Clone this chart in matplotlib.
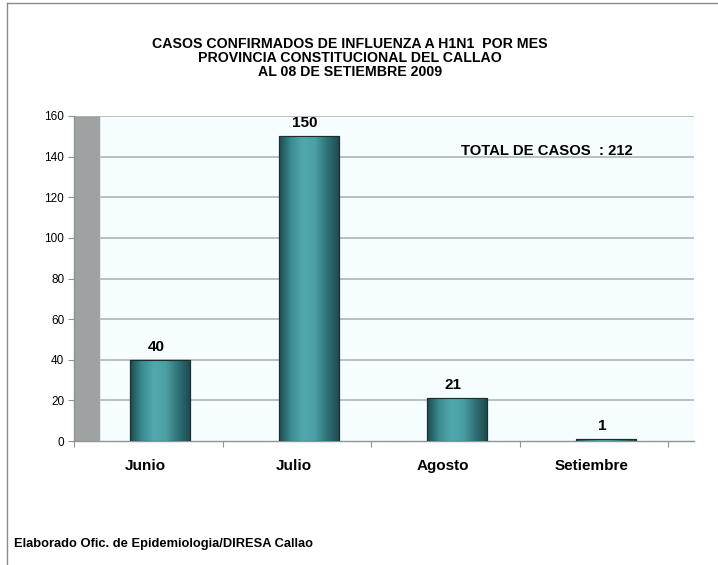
import matplotlib
matplotlib.use("Agg")
import matplotlib.pyplot as plt
import numpy as np
from matplotlib import font_manager
from matplotlib.colors import LinearSegmentedColormap
from matplotlib.patches import Rectangle

categories = ["Junio", "Julio", "Agosto", "Setiembre"]
values = [40, 150, 21, 1]
yticks = [0, 20, 40, 60, 80, 100, 120, 140, 160]
title_lines = ["CASOS CONFIRMADOS DE INFLUENZA A H1N1  POR MES",
               "PROVINCIA CONSTITUCIONAL DEL CALLAO",
               "AL 08 DE SETIEMBRE 2009"]
total_text = "TOTAL DE CASOS  : 212"
footer = "Elaborado Ofic. de Epidemiologia/DIRESA Callao"

names = {f.name for f in font_manager.fontManager.ttflist}
narrow = "Liberation Sans Narrow" if "Liberation Sans Narrow" in names else "Liberation Sans"
plt.rcParams['font.family'] = ['Liberation Sans', 'DejaVu Sans']

W, H = 718, 565
fig = plt.figure(figsize=(W/100, H/100), dpi=100)

# figure frame lines (top and left)
fig.add_artist(plt.Line2D([7/W, 1], [1-3/H, 1-3/H], color="#8c8c8c", lw=1))
fig.add_artist(plt.Line2D([7/W, 7/W], [0, 1-3/H], color="#8c8c8c", lw=1))

L, R, T, B = 74, 694, 116, 441
ax = fig.add_axes([L/W, 1-B/H, (R-L)/W, (B-T)/H])

spacing = 148.6
x0 = -(160 - L)/spacing
x1 = x0 + (R - L)/spacing
ax.set_xlim(x0, x1)
ax.set_ylim(0, 160)
ax.set_facecolor("#F6FDFE")

wall_x = x0 + (99 - L)/spacing
ax.axvspan(x0, wall_x, color="#9FA2A3", zorder=1)
for y in yticks[1:]:
    ax.hlines(y, wall_x, x1, color="#B0B4B5", lw=1.2, zorder=1)
ax.hlines(160, x0, wall_x, color="#B0B4B5", lw=1.2, zorder=1)

xpos = np.arange(len(categories))
bw = 60/spacing
bars = ax.bar(xpos, values, width=bw, color="#3f8f94", edgecolor="#1a2e30", lw=0.8, zorder=3)

cmap = LinearSegmentedColormap.from_list("cyl", ["#1d4a4e", "#3a8c91", "#52a9ad", "#4aa0a4", "#2f7377", "#1e4b4f"])
grad = np.linspace(0, 1, 256).reshape(1, -1)
for b in bars:
    x, w, h = b.get_x(), b.get_width(), b.get_height()
    im = ax.imshow(grad, cmap=cmap, aspect="auto", extent=[x, x+w, 0, h], zorder=3.5)
    im.set_clip_path(b)
    ax.add_patch(Rectangle((x, 0), w, h, fill=False, edgecolor="#1a2e30", lw=0.8, zorder=4))
    ax.text(x + w/2 - 4/spacing, h + 3, f"{int(h)}", ha="center", va="bottom",
            fontsize=11, fontweight="bold", zorder=5)

ax.set_xlim(x0, x1)
ax.set_ylim(0, 160)

for s in ["top", "right"]:
    ax.spines[s].set_visible(False)
for s in ["left", "bottom"]:
    ax.spines[s].set_color("#8f9394")
    ax.spines[s].set_linewidth(1)

ax.set_yticks(yticks)
ax.set_yticklabels([str(v) for v in yticks], fontsize=8.5)
ax.tick_params(axis="y", length=4, color="#8f9394", pad=3)

ax.set_xticks([x0 + k for k in range(5)])
ax.set_xticklabels([])
ax.tick_params(axis="x", length=4, color="#8f9394")
for k, c in enumerate(categories):
    ax.text(x0 + k + 0.5 - 3/spacing, -9, c, ha="center", va="top", fontsize=11, fontweight="bold")

ax.text((547 - 160)/spacing, 141, total_text, ha="center", va="baseline",
        fontsize=10.7, fontweight="bold", zorder=5)

for i, line in enumerate(title_lines):
    fig.text(350/W, 1 - (43.5 + 14*i)/H, line, ha="center", va="center",
             fontsize=10.2, fontweight="bold", family=[narrow, "DejaVu Sans"])

fig.text(14/W, 1 - 544/H, footer, ha="left", va="center", fontsize=9.3, fontweight="bold",
         family=[narrow, "DejaVu Sans"])

fig.savefig("out.png", dpi=100)
